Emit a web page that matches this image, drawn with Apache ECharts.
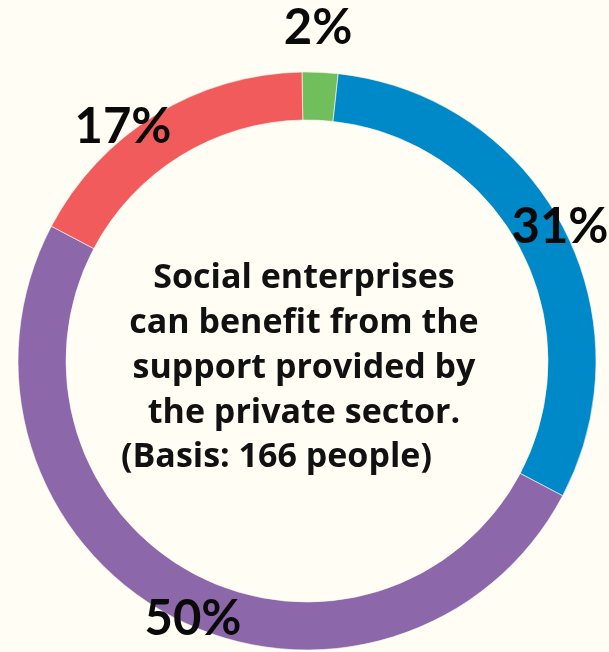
<!DOCTYPE html>
<html>
<head>
<meta charset="utf-8">
<style>
  html, body { margin: 0; padding: 0; background: #FFFDF4; }
  #chart { width: 609px; height: 652px; }
</style>
<script src="https://cdn.jsdelivr.net/npm/echarts@6/dist/echarts.min.js"></script>
</head>
<body>
<div id="chart"></div>
<script>
// Shares of answers (percent of respondents)
const categories = ['Green', 'Blue', 'Purple', 'Red'];
const shares = [2, 31, 50, 17];
const sliceColors = ['#71BE5D', '#0089C9', '#8C67AA', '#F25B5B'];

const statementLines = [
  'Social enterprises',
  'can benefit from the',
  'support provided by',
  'the private sector.'
];
const basisText = '(Basis: 166 people)';

// where each percentage label sits around the ring
const labelSpots = [
  [318, 28],
  [560, 227],
  [193, 619],
  [123, 127]
];

const chart = echarts.init(document.getElementById('chart'), null, { renderer: 'canvas' });

const centerFont = 'bold 34px "Open Sans"';

chart.setOption({
  backgroundColor: '#FFFDF4',
  animation: false,
  graphic: [
    {
      type: 'text',
      x: 304,
      y: 256,
      style: {
        text: statementLines.join('\n'),
        font: centerFont,
        fill: '#111111',
        align: 'center',
        verticalAlign: 'top',
        lineHeight: 45
      }
    },
    {
      type: 'text',
      x: 121,
      y: 435,
      style: {
        text: basisText,
        font: centerFont,
        fill: '#111111',
        align: 'left',
        verticalAlign: 'top',
        lineHeight: 45
      }
    }
  ],
  series: [
    {
      type: 'pie',
      center: [307, 361],
      radius: [241, 289],
      startAngle: 91,
      clockwise: true,
      avoidLabelOverlap: false,
      itemStyle: { borderColor: '#FFFDF4', borderWidth: 0.6 },
      label: {
        show: true,
        position: 'outside',
        formatter: '{c}%',
        fontFamily: 'Lato',
        fontWeight: 'bold',
        fontSize: 49,
        color: '#0A0A0A'
      },
      labelLine: { show: false },
      labelLayout: function (p) {
        const s = labelSpots[p.dataIndex];
        return { x: s[0], y: s[1], align: 'center', verticalAlign: 'middle' };
      },
      emphasis: { disabled: true },
      data: categories.map((c, i) => ({
        name: c,
        value: shares[i],
        itemStyle: { color: sliceColors[i] }
      }))
    }
  ]
});
</script>
</body>
</html>
